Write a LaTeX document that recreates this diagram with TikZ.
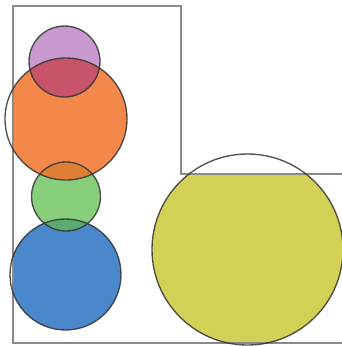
\documentclass[tikz,border=0pt]{standalone}
\usetikzlibrary{calc}
\definecolor{cpurple}{HTML}{C99AD0}
\definecolor{corange}{HTML}{F4884A}
\definecolor{cgreen}{HTML}{88CF7C}
\definecolor{cblue}{HTML}{4A87CB}
\definecolor{cyellow}{HTML}{D2D155}
\definecolor{cpo}{HTML}{C75468}
\definecolor{cog}{HTML}{E07F36}
\definecolor{cgb}{HTML}{5BAA72}
\definecolor{cframe}{HTML}{8A8A8A}
\begin{document}
\begin{tikzpicture}[x=1pt,y=-1pt,
  ring/.style={draw=black!80,draw opacity=0.85,line width=1.35pt},
  frame/.style={draw=cframe,line width=1.4pt}]
\useasboundingbox (0,0) rectangle (341,346);
\def\Lshape{(13,6) -- (181,6) -- (181,174) -- (343,174) -- (343,343) -- (13,343) -- cycle}
\coordinate (pc) at (64.5,61.5);
\coordinate (oc) at (66,119);
\coordinate (gc) at (66,196.5);
\coordinate (bc) at (65.5,274.5);
\coordinate (yc) at (247.5,249.5);
\begin{scope}
  \clip \Lshape;
  \fill[cpurple] (pc) circle (35.5);
  \fill[corange] (oc) circle (61);
  \fill[cgreen] (gc) circle (34.5);
  \fill[cblue] (bc) circle (55.5);
  \fill[cyellow] (yc) circle (95.5);
  \begin{scope}
    \clip (pc) circle (35.5);
    \fill[cpo] (oc) circle (61);
  \end{scope}
  \begin{scope}
    \clip (oc) circle (61);
    \fill[cog] (gc) circle (34.5);
  \end{scope}
  \begin{scope}
    \clip (gc) circle (34.5);
    \fill[cgb] (bc) circle (55.5);
  \end{scope}
\end{scope}
\draw[frame] \Lshape;
\node[ring,circle,minimum size=71pt,inner sep=0pt] (purple) at (pc) {};
\node[ring,circle,minimum size=122pt,inner sep=0pt] (orange) at (oc) {};
\node[ring,circle,minimum size=69pt,inner sep=0pt] (green) at (gc) {};
\node[ring,circle,minimum size=111pt,inner sep=0pt] (blue) at (bc) {};
\node[ring,circle,minimum size=191pt,inner sep=0pt] (yellow) at (yc) {};
\end{tikzpicture}
\end{document}
